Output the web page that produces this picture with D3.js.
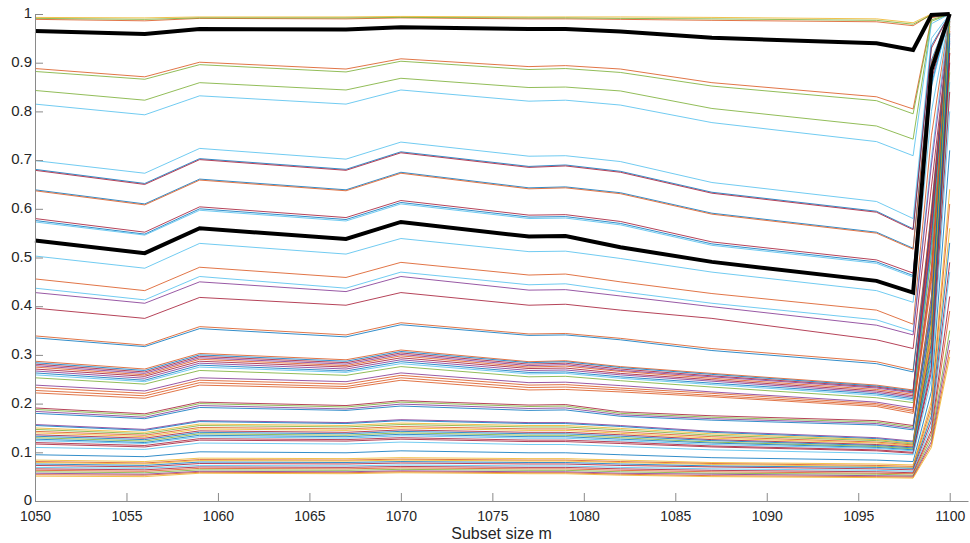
<!DOCTYPE html>
<html>
<head>
<meta charset="utf-8">
<script src="https://cdn.jsdelivr.net/npm/d3@7"></script>
<style>
    body { margin: 0; background: #fff; }
    svg { display: block; font-family: "Liberation Sans", Arial, sans-serif; }
</style>
</head>
<body>
<div id="chart"></div>
<script>
// subset sizes where the curves change slope
const subsetSizes = [1050, 1056, 1059, 1067, 1070, 1077, 1079, 1082, 1087, 1096, 1098, 1099, 1100];
const xTicks = [1050, 1055, 1060, 1065, 1070, 1075, 1080, 1085, 1090, 1095, 1100];
const yTicks = [0, 0.1, 0.2, 0.3, 0.4, 0.5, 0.6, 0.7, 0.8, 0.9, 1];

const lineValues = [
    [0.993, 0.992, 0.994, 0.994, 0.995, 0.994, 0.994, 0.994, 0.993, 0.990, 0.982, 1.000, 1.000],
    [0.989, 0.986, 0.991, 0.990, 0.992, 0.990, 0.990, 0.989, 0.987, 0.984, 0.976, 0.999, 1.000],
    [0.991, 0.989, 0.992, 0.992, 0.993, 0.992, 0.992, 0.991, 0.990, 0.987, 0.979, 0.998, 1.000],
    [0.888, 0.871, 0.901, 0.887, 0.908, 0.892, 0.894, 0.887, 0.859, 0.830, 0.805, 0.992, 1.000],
    [0.882, 0.866, 0.896, 0.881, 0.903, 0.886, 0.888, 0.880, 0.852, 0.822, 0.795, 0.988, 1.000],
    [0.843, 0.823, 0.859, 0.844, 0.868, 0.849, 0.850, 0.842, 0.806, 0.770, 0.743, 0.985, 1.000],
    [0.815, 0.793, 0.832, 0.815, 0.844, 0.821, 0.823, 0.813, 0.777, 0.738, 0.709, 0.980, 1.000],
    [0.699, 0.673, 0.724, 0.702, 0.737, 0.708, 0.709, 0.697, 0.654, 0.615, 0.580, 0.950, 1.000],
    [0.681, 0.652, 0.703, 0.681, 0.717, 0.687, 0.690, 0.677, 0.634, 0.595, 0.559, 0.935, 1.000],
    [0.679, 0.650, 0.701, 0.679, 0.715, 0.685, 0.688, 0.675, 0.632, 0.593, 0.557, 0.930, 1.000],
    [0.639, 0.610, 0.661, 0.639, 0.675, 0.643, 0.645, 0.633, 0.591, 0.552, 0.519, 0.905, 1.000],
    [0.637, 0.608, 0.659, 0.637, 0.673, 0.641, 0.643, 0.631, 0.589, 0.550, 0.517, 0.900, 1.000],
    [0.580, 0.552, 0.604, 0.582, 0.617, 0.587, 0.588, 0.574, 0.532, 0.495, 0.468, 0.865, 1.000],
    [0.576, 0.548, 0.600, 0.578, 0.613, 0.583, 0.584, 0.570, 0.528, 0.491, 0.463, 0.855, 1.000],
    [0.573, 0.546, 0.597, 0.575, 0.610, 0.580, 0.581, 0.567, 0.525, 0.488, 0.460, 0.850, 1.000],
    [0.503, 0.478, 0.529, 0.507, 0.539, 0.512, 0.513, 0.498, 0.470, 0.432, 0.408, 0.800, 1.000],
    [0.456, 0.432, 0.480, 0.459, 0.490, 0.464, 0.466, 0.450, 0.426, 0.392, 0.363, 0.750, 1.000],
    [0.437, 0.413, 0.461, 0.437, 0.470, 0.444, 0.446, 0.430, 0.406, 0.372, 0.348, 0.705, 1.000],
    [0.428, 0.406, 0.450, 0.430, 0.461, 0.433, 0.434, 0.421, 0.399, 0.361, 0.341, 0.690, 0.985],
    [0.396, 0.375, 0.418, 0.402, 0.428, 0.402, 0.404, 0.392, 0.375, 0.331, 0.313, 0.645, 0.975],
    [0.339, 0.320, 0.358, 0.341, 0.366, 0.343, 0.344, 0.334, 0.313, 0.286, 0.269, 0.590, 0.965],
    [0.335, 0.317, 0.354, 0.337, 0.362, 0.340, 0.341, 0.331, 0.309, 0.282, 0.265, 0.575, 0.955],
    [0.287, 0.271, 0.303, 0.290, 0.310, 0.286, 0.288, 0.276, 0.262, 0.238, 0.228, 0.600, 1.000],
    [0.284, 0.268, 0.300, 0.287, 0.307, 0.284, 0.286, 0.274, 0.260, 0.236, 0.226, 0.590, 1.000],
    [0.281, 0.265, 0.297, 0.284, 0.304, 0.281, 0.283, 0.271, 0.257, 0.234, 0.224, 0.580, 0.995],
    [0.278, 0.262, 0.294, 0.281, 0.301, 0.278, 0.280, 0.268, 0.255, 0.232, 0.222, 0.570, 0.990],
    [0.275, 0.259, 0.291, 0.278, 0.298, 0.275, 0.277, 0.266, 0.252, 0.229, 0.219, 0.560, 1.000],
    [0.271, 0.256, 0.287, 0.275, 0.294, 0.272, 0.273, 0.262, 0.249, 0.226, 0.216, 0.545, 0.985],
    [0.267, 0.252, 0.283, 0.271, 0.290, 0.268, 0.269, 0.259, 0.246, 0.223, 0.213, 0.535, 0.980],
    [0.263, 0.248, 0.279, 0.267, 0.286, 0.264, 0.265, 0.255, 0.242, 0.220, 0.210, 0.525, 1.000],
    [0.259, 0.245, 0.275, 0.264, 0.282, 0.261, 0.262, 0.252, 0.239, 0.217, 0.207, 0.515, 0.975],
    [0.253, 0.240, 0.268, 0.258, 0.276, 0.255, 0.256, 0.247, 0.234, 0.212, 0.202, 0.505, 0.990],
    [0.238, 0.226, 0.253, 0.245, 0.263, 0.243, 0.244, 0.237, 0.224, 0.203, 0.191, 0.480, 0.970],
    [0.233, 0.221, 0.248, 0.240, 0.258, 0.238, 0.239, 0.232, 0.221, 0.200, 0.187, 0.470, 1.000],
    [0.227, 0.216, 0.243, 0.235, 0.253, 0.233, 0.234, 0.228, 0.217, 0.197, 0.184, 0.460, 0.965],
    [0.222, 0.211, 0.238, 0.231, 0.248, 0.228, 0.229, 0.224, 0.214, 0.194, 0.180, 0.450, 0.995],
    [0.191, 0.179, 0.203, 0.196, 0.206, 0.197, 0.198, 0.183, 0.175, 0.165, 0.155, 0.420, 0.960],
    [0.188, 0.176, 0.200, 0.193, 0.203, 0.194, 0.195, 0.180, 0.172, 0.162, 0.152, 0.410, 1.000],
    [0.184, 0.172, 0.196, 0.189, 0.199, 0.190, 0.191, 0.177, 0.169, 0.159, 0.149, 0.400, 0.950],
    [0.180, 0.169, 0.192, 0.186, 0.195, 0.186, 0.187, 0.174, 0.166, 0.156, 0.146, 0.390, 0.990],
    [0.157, 0.147, 0.165, 0.161, 0.167, 0.161, 0.161, 0.155, 0.143, 0.130, 0.123, 0.380, 0.940],
    [0.155, 0.145, 0.163, 0.159, 0.165, 0.159, 0.159, 0.153, 0.141, 0.128, 0.121, 0.375, 1.000],
    [0.150, 0.141, 0.158, 0.155, 0.160, 0.155, 0.155, 0.149, 0.138, 0.126, 0.119, 0.365, 0.930],
    [0.147, 0.138, 0.155, 0.152, 0.157, 0.152, 0.152, 0.146, 0.135, 0.124, 0.117, 0.355, 0.985],
    [0.143, 0.135, 0.151, 0.148, 0.153, 0.148, 0.148, 0.142, 0.132, 0.121, 0.115, 0.345, 0.920],
    [0.140, 0.132, 0.148, 0.145, 0.150, 0.145, 0.145, 0.139, 0.129, 0.119, 0.113, 0.335, 0.975],
    [0.136, 0.129, 0.144, 0.141, 0.146, 0.141, 0.141, 0.136, 0.126, 0.116, 0.111, 0.325, 0.900],
    [0.133, 0.126, 0.141, 0.138, 0.143, 0.138, 0.138, 0.133, 0.124, 0.114, 0.109, 0.315, 0.960],
    [0.130, 0.123, 0.138, 0.135, 0.140, 0.135, 0.135, 0.130, 0.121, 0.112, 0.107, 0.305, 0.880],
    [0.127, 0.120, 0.135, 0.132, 0.137, 0.132, 0.132, 0.127, 0.119, 0.110, 0.105, 0.295, 0.945],
    [0.124, 0.118, 0.132, 0.129, 0.134, 0.129, 0.129, 0.124, 0.116, 0.108, 0.103, 0.285, 0.860],
    [0.120, 0.114, 0.128, 0.126, 0.130, 0.125, 0.125, 0.121, 0.113, 0.105, 0.100, 0.275, 0.920],
    [0.117, 0.111, 0.125, 0.123, 0.127, 0.122, 0.122, 0.118, 0.111, 0.103, 0.098, 0.265, 0.840],
    [0.110, 0.106, 0.119, 0.117, 0.121, 0.116, 0.116, 0.112, 0.105, 0.098, 0.095, 0.250, 0.800],
    [0.095, 0.091, 0.101, 0.099, 0.103, 0.099, 0.099, 0.095, 0.089, 0.084, 0.081, 0.225, 0.720],
    [0.084, 0.081, 0.088, 0.087, 0.089, 0.087, 0.087, 0.084, 0.079, 0.076, 0.074, 0.205, 0.640],
    [0.081, 0.078, 0.085, 0.084, 0.086, 0.084, 0.084, 0.081, 0.077, 0.073, 0.071, 0.195, 0.610],
    [0.079, 0.076, 0.083, 0.082, 0.084, 0.082, 0.082, 0.079, 0.075, 0.071, 0.069, 0.185, 0.560],
    [0.076, 0.073, 0.080, 0.079, 0.081, 0.079, 0.079, 0.076, 0.072, 0.069, 0.067, 0.175, 0.530],
    [0.073, 0.070, 0.077, 0.076, 0.078, 0.076, 0.076, 0.073, 0.070, 0.066, 0.064, 0.165, 0.490],
    [0.069, 0.067, 0.073, 0.072, 0.074, 0.072, 0.072, 0.069, 0.066, 0.063, 0.061, 0.155, 0.470],
    [0.066, 0.064, 0.070, 0.069, 0.071, 0.069, 0.069, 0.066, 0.063, 0.060, 0.058, 0.145, 0.420],
    [0.063, 0.061, 0.067, 0.066, 0.068, 0.066, 0.066, 0.063, 0.060, 0.057, 0.056, 0.138, 0.390],
    [0.060, 0.058, 0.064, 0.063, 0.065, 0.063, 0.063, 0.060, 0.057, 0.055, 0.053, 0.130, 0.350],
    [0.057, 0.055, 0.061, 0.060, 0.062, 0.060, 0.060, 0.057, 0.055, 0.052, 0.051, 0.122, 0.330],
    [0.054, 0.053, 0.059, 0.058, 0.060, 0.058, 0.058, 0.055, 0.052, 0.050, 0.049, 0.116, 0.310],
    [0.051, 0.050, 0.057, 0.056, 0.058, 0.056, 0.056, 0.053, 0.050, 0.048, 0.047, 0.110, 0.296]
];

// one letter per curve, same order as lineValues
const lineColors = [
    "Y", "O", "G", "O", "G", "G", "C", "C", "B", "R", "B", "O", "R", "B", "C", "C",
    "O", "C", "P", "R", "O", "B",
    "O", "B", "R", "P", "O", "R", "P", "B", "C", "G", "P", "O", "O", "O",
    "R", "G", "P", "B",
    "P", "B", "Y", "G", "O", "Y", "R", "B", "G", "B", "C", "R", "R", "C", "B",
    "Y", "O", "Y", "B", "R", "C", "R", "O", "G", "P", "O", "Y"
];

const boldValues = [
    [0.965, 0.959, 0.969, 0.968, 0.973, 0.969, 0.969, 0.964, 0.951, 0.940, 0.926, 0.998, 1.000],
    [0.535, 0.509, 0.560, 0.538, 0.573, 0.543, 0.544, 0.521, 0.491, 0.452, 0.428, 0.885, 1.000]
];

const palette = {
    B: "#0072BD",
    O: "#D95319",
    Y: "#EDB120",
    P: "#7E2F8E",
    G: "#77AC30",
    C: "#4DBEEE",
    R: "#A2142F"
};

const width = 970;
const height = 543;

const svg = d3.select("#chart")
    .append("svg")
    .attr("width", width)
    .attr("height", height);

const x = d3.scaleLinear().domain([1050, 1101]).range([35, 968]);
const y = d3.scaleLinear().domain([0, 1]).range([501, 14]);

const line = d3.line()
    .x((d, i) => x(subsetSizes[i]))
    .y((d) => y(d));

svg.append("g")
    .selectAll("path")
    .data(lineValues)
    .enter()
    .append("path")
    .attr("d", line)
    .attr("fill", "none")
    .attr("stroke", (d, i) => palette[lineColors[i]])
    .attr("stroke-opacity", 0.8)
    .attr("stroke-width", 1);

svg.append("g")
    .selectAll("path")
    .data(boldValues)
    .enter()
    .append("path")
    .attr("d", line)
    .attr("fill", "none")
    .attr("stroke", "#000")
    .attr("stroke-width", 4)
    .attr("stroke-linejoin", "miter");

const xAxis = svg.append("g")
    .attr("transform", `translate(0,${y(0)})`)
    .call(d3.axisBottom(x)
        .tickValues(xTicks)
        .tickFormat(d3.format("d"))
        .tickSizeInner(-8)
        .tickSizeOuter(0)
        .tickPadding(10));

const yAxis = svg.append("g")
    .attr("transform", `translate(${x(1050)},0)`)
    .call(d3.axisLeft(y)
        .tickValues(yTicks)
        .tickFormat((d) => String(+d.toFixed(1)))
        .tickSizeInner(-8)
        .tickSizeOuter(0)
        .tickPadding(3));

[xAxis, yAxis].forEach((g) => {
    g.select(".domain").attr("stroke", "#8a8a8a");
    g.selectAll(".tick line").attr("stroke", "#8a8a8a");
    g.selectAll(".tick text").attr("fill", "#262626");
});

xAxis.selectAll(".tick text").style("font-size", "14px");
yAxis.selectAll(".tick text")
    .attr("dy", "0.25em")
    .style("font-size", "15px");

svg.append("text")
    .attr("x", (x(1050) + x(1101)) / 2)
    .attr("y", 539)
    .attr("text-anchor", "middle")
    .attr("fill", "#262626")
    .style("font-size", "16px")
    .text("Subset size m");
</script>
</body>
</html>
